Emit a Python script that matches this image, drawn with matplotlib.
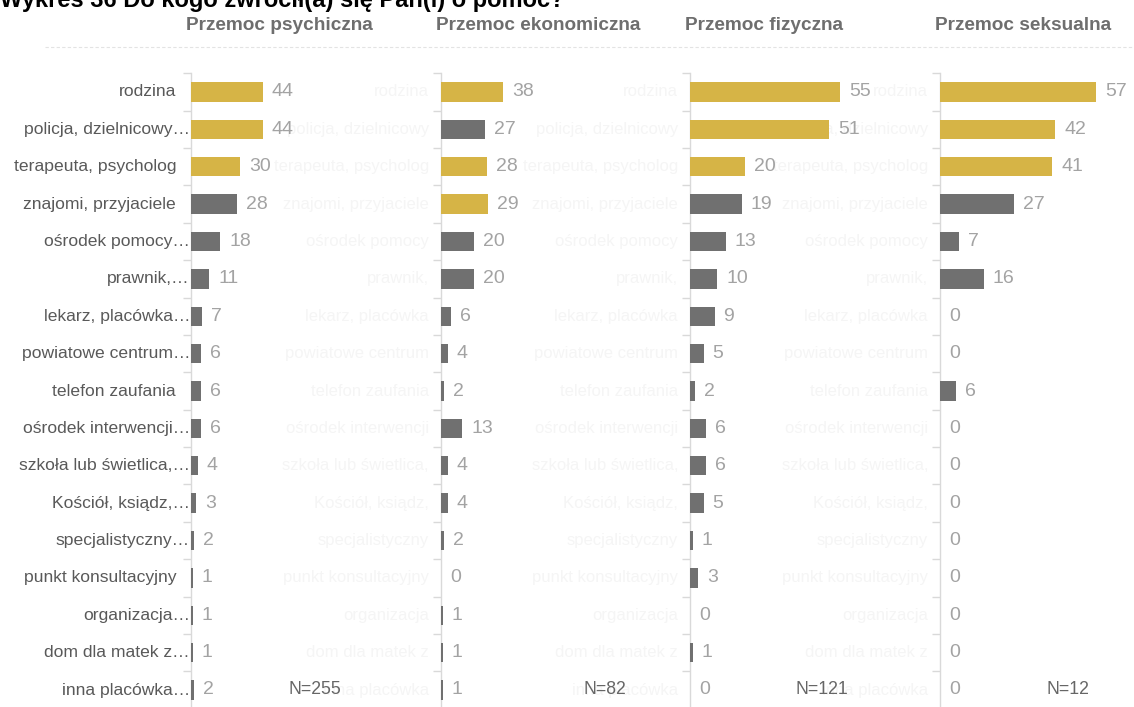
import matplotlib
matplotlib.use("Agg")
import matplotlib.pyplot as plt
from matplotlib.lines import Line2D
import matplotlib.transforms as mtransforms
import numpy as np

plt.rcParams['font.family'] = ['Liberation Sans', 'DejaVu Sans']

title = "Wykres 36 Do kogo zwrócił(a) się Pan(i) o pomoc?"
panels = ["Przemoc psychiczna", "Przemoc ekonomiczna", "Przemoc fizyczna", "Przemoc seksualna"]
categories = ["rodzina", "policja, dzielnicowy…", "terapeuta, psycholog", "znajomi, przyjaciele",
              "ośrodek pomocy…", "prawnik,…", "lekarz, placówka…", "powiatowe centrum…",
              "telefon zaufania", "ośrodek interwencji…", "szkoła lub świetlica,…", "Kościół, ksiądz,…",
              "specjalistyczny…", "punkt konsultacyjny", "organizacja…", "dom dla matek z…",
              "inna placówka…"]
psych = [44, 44, 30, 28, 18, 11, 7, 6, 6, 6, 4, 3, 2, 1, 1, 1, 2]
ekon = [38, 27, 28, 29, 20, 20, 6, 4, 2, 13, 4, 4, 2, 0, 1, 1, 1]
fiz = [55, 51, 20, 19, 13, 10, 9, 5, 2, 6, 6, 5, 1, 3, 0, 1, 0]
seks = [57, 42, 41, 27, 7, 16, 0, 0, 6, 0, 0, 0, 0, 0, 0, 0, 0]
n_labels = ["N=255", "N=82", "N=121", "N=12"]
series = [psych, ekon, fiz, seks]

W, H = 1134, 707
fig = plt.figure(figsize=(W / 100, H / 100), dpi=100)

GOLD = "#D6B446"
GREY = "#707070"

# layout in pixels
ax_x = [191, 441, 690, 940]
ax_w = [250, 249, 250, 194]
xmax = [153, 153, 91.5, 70.8]
n_x = [124, 164, 132, 127.5]
row0, row_step = 92, 37.375
nrows = len(categories)
top_px = row0 - row_step / 2
bot_px = row0 + row_step * (nrows - 1) + row_step / 2

axes = []
for i in range(4):
    ax = fig.add_axes([ax_x[i] / W, 1 - bot_px / H, ax_w[i] / W, (bot_px - top_px) / H])
    ax.patch.set_alpha(0)
    axes.append(ax)

for i, ax in enumerate(axes):
    vals = np.array(series[i])
    y = np.arange(nrows)
    top3 = set(np.argsort(-vals, kind="stable")[:3])
    colors = [GOLD if k in top3 else GREY for k in range(nrows)]
    ax.barh(y, vals, height=0.52, color=colors, zorder=3)
    ax.set_ylim(nrows - 0.5, -0.5)
    ax.set_xlim(0, xmax[i])
    bt = mtransforms.blended_transform_factory(ax.transAxes, ax.transData)
    # faint ghost labels near the right edge of panels (drawn first, behind)
    if i < 3:
        for k, c in enumerate(categories):
            ax.text(1 - 12 / ax_w[i], k, c.rstrip("…"), transform=bt,
                    ha="right", va="center", fontsize=12, color="#f5f5f5", zorder=1)
    for k, v in enumerate(vals):
        ax.annotate(str(v), (v, k), xytext=(6.5, 0), textcoords="offset points",
                    va="center", ha="left", fontsize=14, color="#a3a3a3", zorder=4)
    for s in ["top", "right", "bottom"]:
        ax.spines[s].set_visible(False)
    ax.spines["left"].set_color("#d9d9d9")
    ax.spines["left"].set_linewidth(1)
    ax.set_xticks([])
    ax.set_yticks([])
    ax.set_yticks(np.arange(-0.5, nrows + 0.5, 1), minor=True)
    ax.tick_params(axis="y", which="minor", length=6, color="#d9d9d9", width=1, labelleft=False)
    # panel titles
    ax.text(-5 / ax_w[i], 1 - (25 - top_px) / (bot_px - top_px), panels[i], transform=ax.transAxes,
            ha="left", va="center", fontsize=13.7, fontweight="bold", color="#6e6e6e")
    # N label
    ax.text(n_x[i] / ax_w[i], nrows - 1, n_labels[i], transform=bt,
            ha="center", va="center", fontsize=12.7, color="#666666", zorder=5)

# category labels
ax0 = axes[0]
bt0 = mtransforms.blended_transform_factory(ax0.transAxes, ax0.transData)
for k, c in enumerate(categories):
    xx = -1 / ax_w[0] if c.endswith("…") else -15 / ax_w[0]
    ax0.text(xx, k, c, transform=bt0, ha="right", va="center", fontsize=12.6, color="#595959")

# dashed line at top
fig.add_artist(Line2D([45 / W, 1], [1 - 47 / H, 1 - 47 / H], transform=fig.transFigure,
                      color="#e3e3e3", linewidth=0.8, linestyle=(0, (3, 2))))

# title (cut off at top, as in reference)
fig.text(0 / W, 1 - 7 / H, title, ha="left", va="baseline", fontsize=17, fontweight="bold", color="#000000")

fig.savefig("out.png", dpi=100)
